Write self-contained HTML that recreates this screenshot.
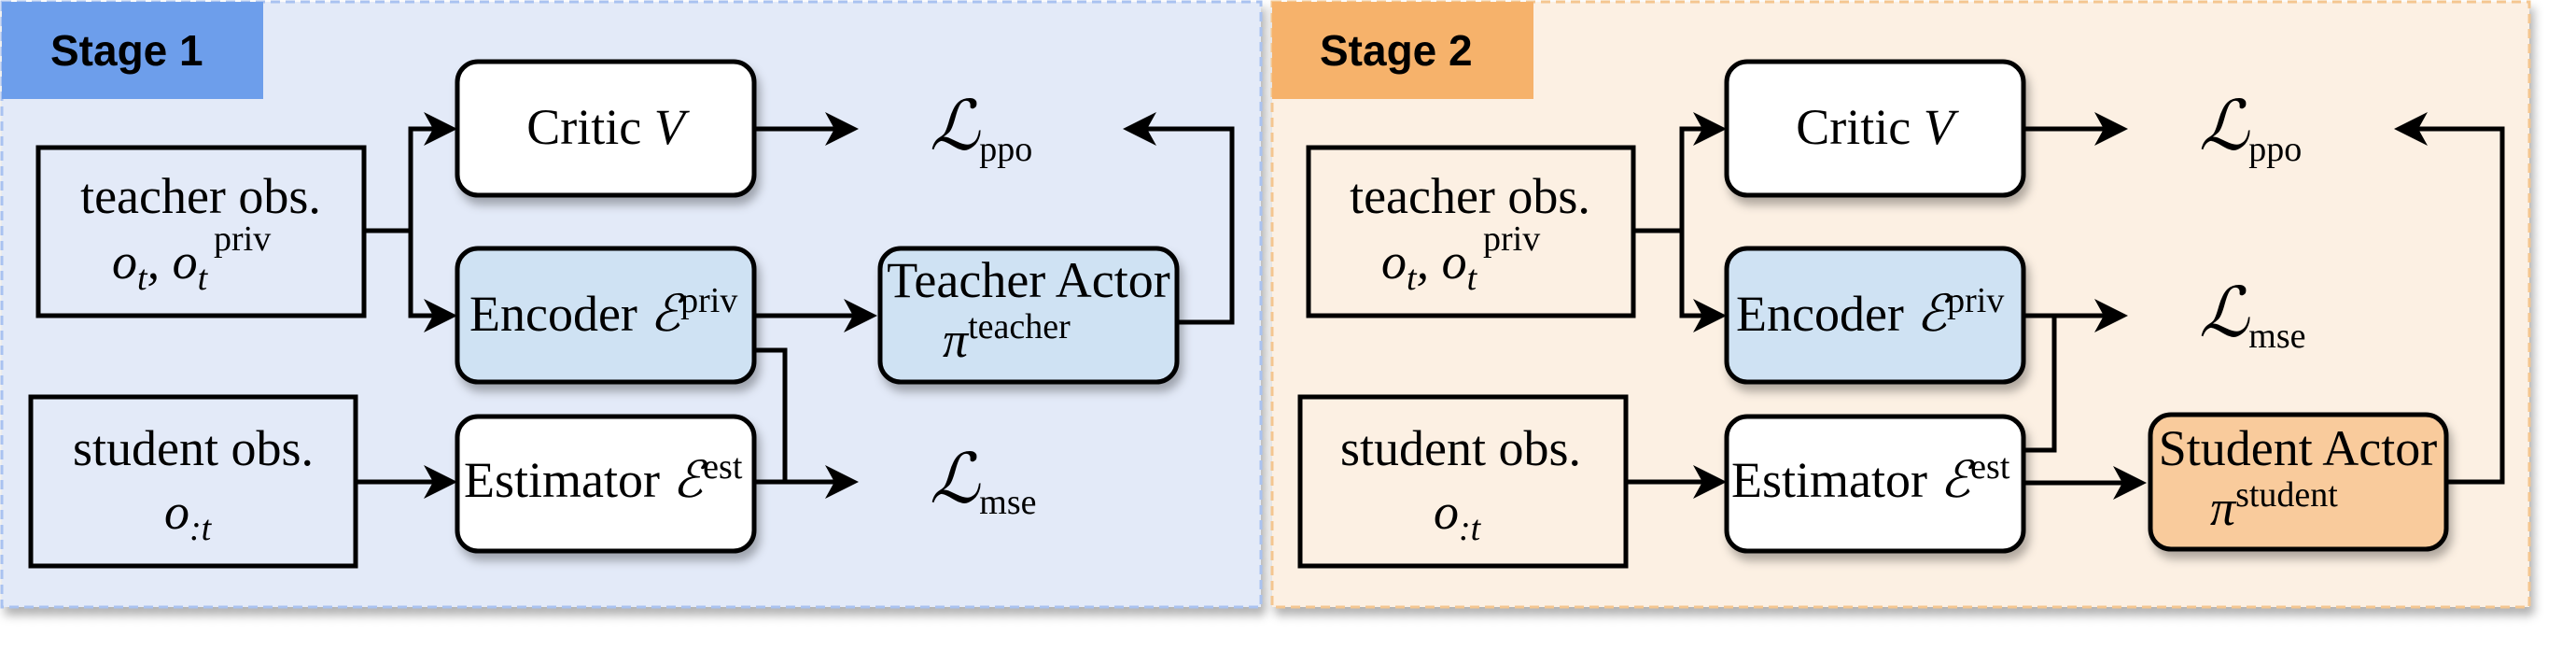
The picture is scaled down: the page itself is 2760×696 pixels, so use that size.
<!DOCTYPE html>
<html><head><meta charset="utf-8"><style>
html,body{margin:0;padding:0;background:#fff;}
svg{display:block;}
text{font-family:"Liberation Serif",serif;fill:#000;}
.t{font-size:54px;}
.s{font-size:38px;}
.L{font-size:74px;font-style:italic;}
.st{font-family:"Liberation Sans",sans-serif;font-weight:bold;font-size:46px;}
</style></head><body>
<svg width="2760" height="696" viewBox="0 0 2760 696" xmlns="http://www.w3.org/2000/svg">
<defs>
<filter id="sh" x="-10%" y="-10%" width="130%" height="140%"><feDropShadow dx="4" dy="8" stdDeviation="5" flood-color="#000" flood-opacity="0.3"/></filter>
</defs>
<rect x="2" y="2" width="1349" height="648" fill="#e3eaf8" stroke="#a9c2f0" stroke-width="3" stroke-dasharray="10,6" filter="url(#sh)"/>
<rect x="1363" y="2" width="1347" height="648" fill="#fcf0e3" stroke="#f4c690" stroke-width="3" stroke-dasharray="10,6" filter="url(#sh)"/>
<rect x="2" y="2" width="280" height="104" fill="#6d9eeb"/>
<rect x="1363" y="2" width="280" height="104" fill="#f6b26b"/>
<text class="st" x="54" y="70">Stage 1</text>
<text class="st" x="1414" y="70">Stage 2</text>

<g stroke="#000" stroke-width="5" fill="none">
<rect x="41" y="158" width="349" height="180" fill="none"/>
<rect x="33" y="425" width="348" height="181" fill="none"/>
<rect x="490" y="66" width="318" height="143" rx="22" fill="#fff" filter="url(#sh)"/>
<rect x="490" y="266" width="318" height="143" rx="22" fill="#cfe2f3" filter="url(#sh)"/>
<rect x="490" y="446" width="318" height="144" rx="22" fill="#fff" filter="url(#sh)"/>
<rect x="943" y="266" width="318" height="143" rx="22" fill="#cfe2f3" filter="url(#sh)"/>
<polyline points="390,247 440,247 440,138 470,138"/>
<polyline points="440,247 440,338 470,338"/>
<line x1="808" y1="138" x2="900" y2="138"/>
<line x1="808" y1="338" x2="920" y2="338"/>
<polyline points="808,375 841,375 841,516 900,516"/>
<line x1="808" y1="516" x2="900" y2="516"/>
<line x1="381" y1="516" x2="470" y2="516"/>
<polyline points="1261,345 1320,345 1320,138 1225,138"/>
<rect x="1402" y="158" width="348" height="180" fill="none"/>
<rect x="1393" y="425" width="349" height="181" fill="none"/>
<rect x="1850" y="66" width="318" height="143" rx="22" fill="#fff" filter="url(#sh)"/>
<rect x="1850" y="266" width="318" height="143" rx="22" fill="#cfe2f3" filter="url(#sh)"/>
<rect x="1850" y="446" width="318" height="144" rx="22" fill="#fff" filter="url(#sh)"/>
<rect x="2304" y="444" width="317" height="144" rx="22" fill="#f9cb9c" filter="url(#sh)"/>
<polyline points="1750,247 1802,247 1802,138 1830,138"/>
<polyline points="1802,247 1802,338 1830,338"/>
<line x1="2168" y1="138" x2="2260" y2="138"/>
<line x1="2168" y1="338" x2="2260" y2="338"/>
<polyline points="2168,482 2201,482 2201,338"/>
<line x1="2168" y1="517" x2="2280" y2="517"/>
<line x1="1742" y1="516" x2="1830" y2="516"/>
<polyline points="2621,516 2681,516 2681,138 2585,138"/>
</g>
<g fill="#000">
<path d="M490,138 l-36,-18 l10,18 l-10,18z"/>
<path d="M490,338 l-36,-18 l10,18 l-10,18z"/>
<path d="M920,138 l-36,-18 l10,18 l-10,18z"/>
<path d="M940,338 l-36,-18 l10,18 l-10,18z"/>
<path d="M920,516 l-36,-18 l10,18 l-10,18z"/>
<path d="M490,516 l-36,-18 l10,18 l-10,18z"/>
<path d="M1203,138 l36,-18 l-10,18 l10,18z"/>
<path d="M1850,138 l-36,-18 l10,18 l-10,18z"/>
<path d="M1850,338 l-36,-18 l10,18 l-10,18z"/>
<path d="M2280,138 l-36,-18 l10,18 l-10,18z"/>
<path d="M2280,338 l-36,-18 l10,18 l-10,18z"/>
<path d="M2300,517 l-36,-18 l10,18 l-10,18z"/>
<path d="M1850,516 l-36,-18 l10,18 l-10,18z"/>
<path d="M2565,138 l36,-18 l-10,18 l10,18z"/>
</g>
<!-- stage 1 -->
<text class="t" x="215" y="228" text-anchor="middle">teacher obs.</text>
<text class="t" x="120" y="298" font-style="italic">o<tspan class="s" dy="12">t</tspan><tspan dy="-12">, o</tspan><tspan class="s" dy="12">t</tspan></text>
<text class="s" x="229" y="268">priv</text>
<text class="t" x="207" y="498" text-anchor="middle">student obs.</text>
<text class="t" x="176" y="566" font-style="italic">o<tspan class="s" dy="12">:t</tspan></text>
<text class="t" x="649" y="154" text-anchor="middle">Critic <tspan font-style="italic">V</tspan></text>
<text class="t" x="503" y="354">Encoder <tspan font-style="italic">ℰ</tspan><tspan class="s" dy="-20">priv</tspan></text>
<text class="t" x="497" y="532">Estimator <tspan font-style="italic">ℰ</tspan><tspan class="s" dy="-20">est</tspan></text>
<text class="t" x="1102" y="318" text-anchor="middle">Teacher Actor</text>
<text class="t" x="1010" y="382" font-style="italic">π<tspan class="s" font-style="normal" dy="-20">teacher</tspan></text>
<text class="L" x="996" y="160">ℒ<tspan class="s" font-style="normal" dy="12">ppo</tspan></text>
<text class="L" x="996" y="538">ℒ<tspan class="s" font-style="normal" dy="12">mse</tspan></text>
<!-- stage 2 -->
<text class="t" x="1575" y="228" text-anchor="middle">teacher obs.</text>
<text class="t" x="1480" y="298" font-style="italic">o<tspan class="s" dy="12">t</tspan><tspan dy="-12">, o</tspan><tspan class="s" dy="12">t</tspan></text>
<text class="s" x="1589" y="268">priv</text>
<text class="t" x="1565" y="498" text-anchor="middle">student obs.</text>
<text class="t" x="1536" y="566" font-style="italic">o<tspan class="s" dy="12">:t</tspan></text>
<text class="t" x="2009" y="154" text-anchor="middle">Critic <tspan font-style="italic">V</tspan></text>
<text class="t" x="1860" y="354">Encoder <tspan font-style="italic">ℰ</tspan><tspan class="s" dy="-20">priv</tspan></text>
<text class="t" x="1855" y="532">Estimator <tspan font-style="italic">ℰ</tspan><tspan class="s" dy="-20">est</tspan></text>
<text class="t" x="2462" y="498" text-anchor="middle">Student Actor</text>
<text class="t" x="2368" y="562" font-style="italic">π<tspan class="s" font-style="normal" dy="-20">student</tspan></text>
<text class="L" x="2356" y="160">ℒ<tspan class="s" font-style="normal" dy="12">ppo</tspan></text>
<text class="L" x="2356" y="360">ℒ<tspan class="s" font-style="normal" dy="12">mse</tspan></text>
</svg>
</body></html>
